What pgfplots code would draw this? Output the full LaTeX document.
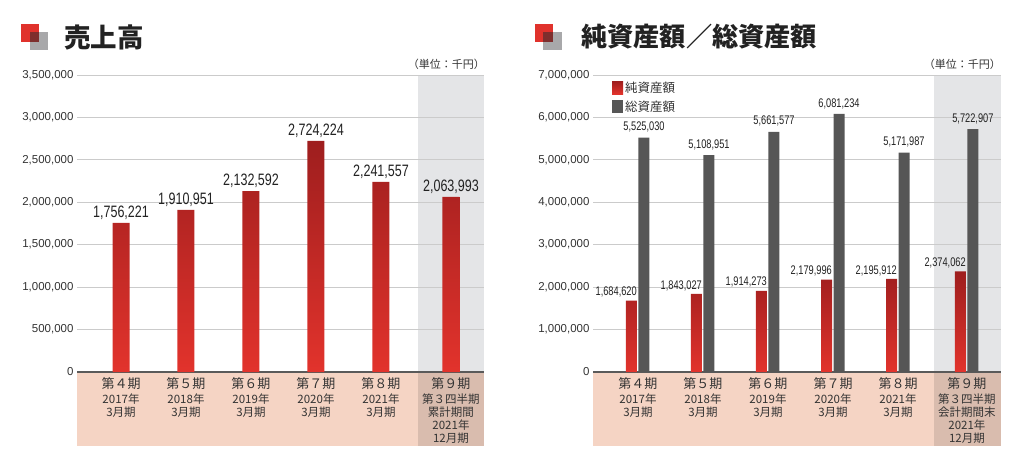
\documentclass[border=0pt]{standalone}
\usepackage{pgfplots}
\pgfplotsset{compat=1.18}
\usepackage{pgfplotstable}
\usepackage{fontspec}
\setmainfont{Liberation Sans}
\newfontfamily\cjk{Noto Sans CJK JP}

\definecolor{barTop}{HTML}{9E1E1E}
\definecolor{barBot}{HTML}{E2332C}
\definecolor{grayBar}{HTML}{565656}
\definecolor{bandPink}{HTML}{F5D4C4}
\definecolor{bandDark}{HTML}{D9BCAE}
\definecolor{hiGray}{HTML}{E4E5E7}
\definecolor{gridGray}{HTML}{CBCBCB}
\definecolor{axisGray}{HTML}{5A5A5A}
\definecolor{txt}{HTML}{333333}
\definecolor{titleTxt}{HTML}{222222}
\definecolor{iconRed}{HTML}{E0322C}
\definecolor{iconGray}{HTML}{A8A8AA}
\definecolor{iconMix}{HTML}{7E2E2D}

\pgfplotstableread{
x y label
0     1756221 1,756,221
1     1910951 1,910,951
2     2132592 2,132,592
3     2724224 2,724,224
4     2241557 2,241,557
5.077 2063993 2,063,993
}\salesdata

\pgfplotstableread{
x net netlabel total totallabel
0    1684620 1,684,620 5525030 5,525,030
1    1843027 1,843,027 5108951 5,108,951
2    1914273 1,914,273 5661577 5,661,577
3    2179996 2,179,996 6081234 6,081,234
4    2195912 2,195,912 5171987 5,171,987
5.06 2374062 2,374,062 5722907 5,722,907
}\assetdata

\pgfplotsset{
  mychart/.style={
    scale only axis, height=297pt, ymin=0, clip=false,
    axis lines*=left,
    axis line style={-},
    y axis line style={draw=none},
    x axis line style={draw=axisGray, line width=1.4pt},
    major tick length=0pt,
    ymajorgrids, grid style={draw=gridGray, line width=1pt},
    scaled y ticks=false,
    yticklabel style={font=\fontsize{11.5}{13}\selectfont, text=txt,
      /pgf/number format/.cd, fixed, precision=0, 1000 sep={,}, assume math mode=true},
    xticklabel style={anchor=north, align=center, inner sep=0pt, yshift=-5.5pt,
      font=\cjk\fontsize{11.5}{12.9}\selectfont, text=txt},
  }
}

\begin{document}
\begin{tikzpicture}[x=1pt,y=1pt]
\path[use as bounding box] (0,0) rectangle (1024,469);

% title icons and titles
\fill[iconGray] (30,437) rectangle (48,419);
\fill[iconRed] (21,445) rectangle (39,427);
\fill[iconMix] (30,437) rectangle (39,427);
\node[anchor=west, inner sep=0pt, font=\cjk\bfseries\fontsize{26.5}{30}\selectfont, text=titleTxt] at (64,432) {売上高};

\fill[iconGray] (543,437) rectangle (562,419);
\fill[iconRed] (535,445) rectangle (553,427);
\fill[iconMix] (543,437) rectangle (553,427);
\node[anchor=west, inner sep=0pt, font=\cjk\bfseries\fontsize{26.2}{30}\selectfont, text=titleTxt] at (581,432) {純資産額／総資産額};

\node[anchor=east, inner sep=0pt, font=\cjk\fontsize{11}{13}\selectfont, text=txt] at (485,405) {（単位：千円）};
\node[anchor=east, inner sep=0pt, font=\cjk\fontsize{11}{13}\selectfont, text=txt] at (1001,405) {（単位：千円）};

% background panels
\fill[hiGray] (418,97) rectangle (484,394);
\fill[bandPink] (77,23.3) rectangle (484,97);
\fill[bandDark] (418,23.3) rectangle (484,97);
\fill[hiGray] (934,97) rectangle (1000.5,394);
\fill[bandPink] (593,23.3) rectangle (1000.5,97);
\fill[bandDark] (934,23.3) rectangle (1000.5,97);

% left chart
\begin{axis}[mychart, at={(77pt,97pt)}, anchor=south west, width=407pt,
  xmin=-0.677, xmax=5.585, ymax=3500000,
  ytick={0,500000,1000000,1500000,2000000,2500000,3000000,3500000},
  xtick={0,1,2,3,4,5.077},
  xticklabels={
    {{\fontsize{13}{14}\selectfont 第４期}\\[2pt]2017年\\3月期},
    {{\fontsize{13}{14}\selectfont 第５期}\\[2pt]2018年\\3月期},
    {{\fontsize{13}{14}\selectfont 第６期}\\[2pt]2019年\\3月期},
    {{\fontsize{13}{14}\selectfont 第７期}\\[2pt]2020年\\3月期},
    {{\fontsize{13}{14}\selectfont 第８期}\\[2pt]2021年\\3月期},
    {{\fontsize{13}{14}\selectfont 第９期}\\[2pt]第３四半期\\累計期間\\2021年\\12月期}},
]
\addplot[ybar, bar width=17pt, draw=none, top color=barTop, bottom color=barBot,
  point meta=explicit symbolic,
  nodes near coords={\scalebox{0.76}[1]{\pgfplotspointmeta}},
  nodes near coords style={anchor=south, inner sep=0pt, yshift=3pt,
    font=\fontsize{16.5}{18}\selectfont, text=titleTxt}]
  table[x=x, y=y, meta=label] {\salesdata};
\end{axis}

% right chart
\begin{axis}[mychart, at={(593pt,97pt)}, anchor=south west, width=407.5pt,
  xmin=-0.692, xmax=5.577, ymax=7000000,
  ytick={0,1000000,2000000,3000000,4000000,5000000,6000000,7000000},
  xtick={0,1,2,3,4,5.06},
  xticklabels={
    {{\fontsize{13}{14}\selectfont 第４期}\\[2pt]2017年\\3月期},
    {{\fontsize{13}{14}\selectfont 第５期}\\[2pt]2018年\\3月期},
    {{\fontsize{13}{14}\selectfont 第６期}\\[2pt]2019年\\3月期},
    {{\fontsize{13}{14}\selectfont 第７期}\\[2pt]2020年\\3月期},
    {{\fontsize{13}{14}\selectfont 第８期}\\[2pt]2021年\\3月期},
    {{\fontsize{13}{14}\selectfont 第９期}\\[2pt]第３四半期\\会計期間末\\2021年\\12月期}},
  legend style={at={(0.0466,0.985)}, anchor=north west, draw=none, fill=none,
    font=\cjk\fontsize{12.5}{14}\selectfont, text=txt, row sep=3pt, inner sep=0pt},
  legend cell align=left,
  legend image code/.code={\fill[#1] (0pt,-6.5pt) rectangle (11pt,6.5pt);},
]
\addplot[ybar, bar width=11pt, bar shift=-6.5pt, draw=none, top color=barTop, bottom color=barBot,
  point meta=explicit symbolic,
  nodes near coords={\scalebox{0.74}[1]{\pgfplotspointmeta}},
  nodes near coords style={anchor=south east, inner sep=0pt, xshift=-1pt, yshift=3pt,
    font=\fontsize{12.5}{14}\selectfont, text=titleTxt}]
  table[x=x, y=net, meta=netlabel] {\assetdata};
\addlegendentry{純資産額}
\addplot[ybar, bar width=11pt, bar shift=6pt, draw=none, fill=grayBar,
  point meta=explicit symbolic,
  nodes near coords={\scalebox{0.74}[1]{\pgfplotspointmeta}},
  nodes near coords style={anchor=south, inner sep=0pt, xshift=6pt, yshift=5pt,
    font=\fontsize{12.5}{14}\selectfont, text=titleTxt}]
  table[x=x, y=total, meta=totallabel] {\assetdata};
\addlegendentry{総資産額}
\end{axis}
\end{tikzpicture}
\end{document}
